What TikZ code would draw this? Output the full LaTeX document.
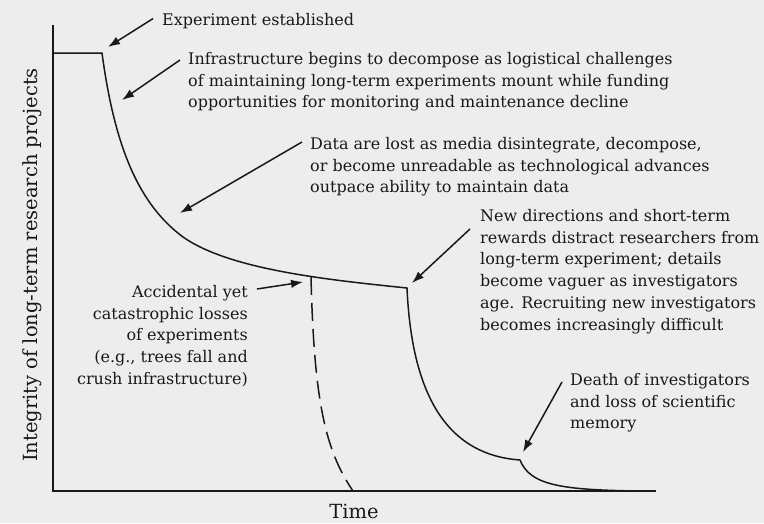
\documentclass[tikz,border=0pt]{standalone}
\usepackage{fontspec}
\setmainfont{DejaVu Serif}
\usetikzlibrary{arrows.meta}

\begin{document}
\begin{tikzpicture}[
    x=1pt, y=-1pt,
    note/.style={font=\fontsize{16}{21.8}\selectfont, inner sep=0pt, text=black!90},
    axislabel/.style={font=\fontsize{19.5}{24}\selectfont, inner sep=0pt, text=black!90},
    pointer/.style={-{Latex[length=12pt, width=8.5pt]}, line width=1.5pt, black!90},
    axis/.style={line width=1.5pt, black!90},
    curve/.style={line width=1.5pt, black!90}
]
\useasboundingbox[fill=black!7] (0,0) rectangle (764,523);

% Axes
\coordinate (origin) at (53,491);
\coordinate (ytop) at (53,25);
\coordinate (xend) at (656,491);
\draw[axis] (ytop) -- (origin) -- (xend);
\node[axislabel, rotate=90] (ylabel) at (32,265) {Integrity of long-term research projects};
\node[axislabel, anchor=base] (xlabel) at (354,518) {Time};

% Integrity curve
\coordinate (start) at (102,53);
\coordinate (decay) at (183,237);
\coordinate (plateau) at (407,288);
\coordinate (memory) at (520,460);
\draw[curve] (53,53) -- (start)
    .. controls (115,150) and (140,205) .. (decay)
    .. controls (230,270) and (330,280) .. (plateau)
    .. controls (412,400) and (450,455) .. (memory)
    .. controls (530,485) and (560,490) .. (640,491);

% Catastrophic loss
\coordinate (loss) at (311,277);
\draw[curve, dash pattern=on 18pt off 8pt] (loss) .. controls (314,400) and (325,450) .. (353,491);

% Labels
\node[note, anchor=base west] (est) at (162,25) {Experiment established};
\node[note, anchor=north west, align=left] (infra) at (188,52)
    {Infrastructure begins to decompose as logistical challenges\\
     of maintaining long-term experiments mount while funding\\
     opportunities for monitoring and maintenance decline};
\node[note, anchor=north west, align=left] (data) at (310,137)
    {Data are lost as media disintegrate, decompose,\\
     or become unreadable as technological advances\\
     outpace ability to maintain data};
\node[note, anchor=north west, align=left] (newdir) at (480,209)
    {New directions and short-term\\
     rewards distract researchers from\\
     long-term experiment; details\\
     become vaguer as investigators\\
     age. Recruiting new investigators\\
     becomes increasingly difficult};
\node[note, anchor=north east, align=right] (acc) at (248,285)
    {Accidental yet\\
     catastrophic losses\\
     of experiments\\
     (e.g., trees fall and\\
     crush infrastructure)};
\node[note, anchor=north west, align=left] (death) at (570,373)
    {Death of investigators\\
     and loss of scientific\\
     memory};

% Arrow tips on the curve
\coordinate (tipest) at (108,47);
\coordinate (tipinfra) at (122,100);
\coordinate (tipdata) at (180,213);
\coordinate (tipacc) at (303,282);
\coordinate (tipnew) at (412,283);
\coordinate (tipdeath) at (523,452);

% Arrows
\draw[pointer] ([shift={(-9,-2)}]est.west) -- (tipest);
\draw[pointer] ([shift={(-8,8)}]infra.north west) -- (tipinfra);
\draw[pointer] ([shift={(-8,5)}]data.north west) -- (tipdata);
\draw[pointer] ([shift={(-10,20)}]newdir.north west) -- (tipnew);
\draw[pointer] ([shift={(9,4)}]acc.north east) -- (tipacc);
\draw[pointer] ([shift={(-8,9)}]death.north west) -- (tipdeath);

\end{tikzpicture}
\end{document}
